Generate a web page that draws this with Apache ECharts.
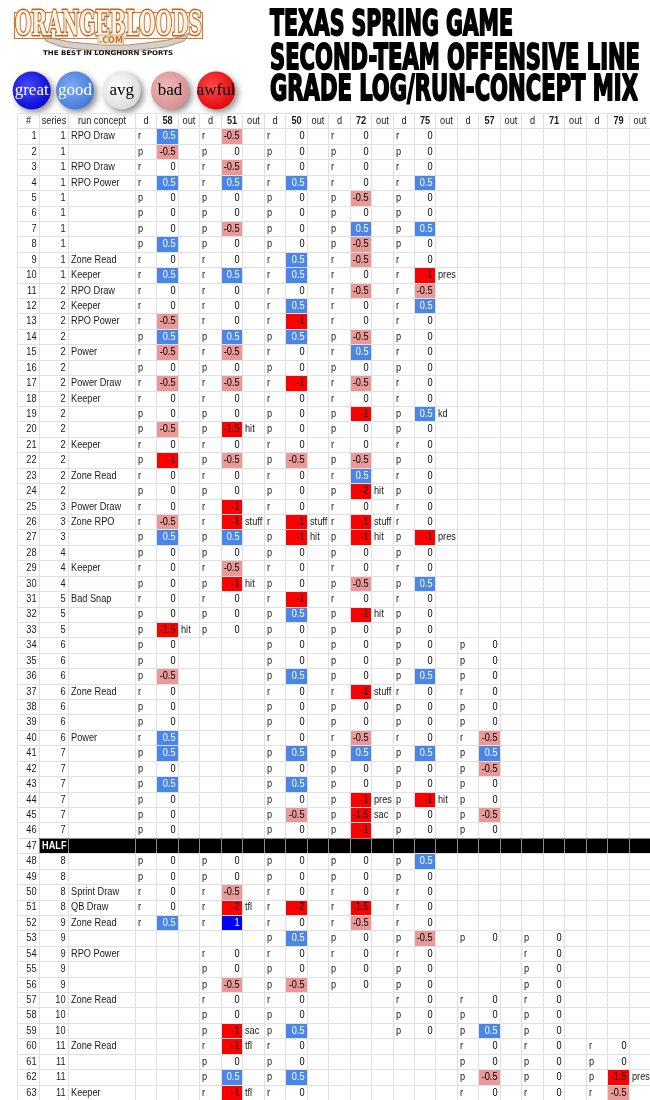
<!DOCTYPE html>
<html><head><meta charset="utf-8">
<script src="https://cdn.jsdelivr.net/npm/echarts@6/dist/echarts.min.js"></script>
<style>html,body{margin:0;padding:0;background:#fff}#c{width:650px;height:1100px}</style>
</head><body><div id="c"></div>
<script>
const _ = null;
const players = ['58','51','50','72','75','57','71','79'];
const headLeft = ['#','series','run concept'];
const subHead = ['d','','out'];
const plays = [1,2,3,4,5,6,7,8,9,10,11,12,13,14,15,16,17,18,19,20,21,22,23,24,25,26,27,28,29,30,31,32,33,34,35,36,37,38,39,40,41,42,43,44,45,46,47,48,49,50,51,52,53,54,55,56,57,58,59,60,61,62,63];
const halfRow = 47;
const halfLabel = 'HALF';
const seriesNo = [1,1,1,1,1,1,1,1,1,1, 2,2,2,2,2,2,2,2,2,2, 2,2,2,2,3,3,3,4,4,4, 5,5,5,6,6,6,6,6,6,6, 7,7,7,7,7,7,_,8,8,8, 8,9,9,9,9,9,10,10,10,11, 11,11,11];
const runConcept = ['RPO Draw','','RPO Draw','RPO Power','','','','','Zone Read','Keeper',
 'RPO Draw','Keeper','RPO Power','','Power','','Power Draw','Keeper','','',
 'Keeper','','Zone Read','','Power Draw','Zone RPO','','','Keeper','',
 'Bad Snap','','','','','','Zone Read','','','Power',
 '','','','','','','','','','Sprint Draw',
 'QB Draw','Zone Read','','RPO Power','','','Zone Read','','','Zone Read',
 '','','Keeper'];
const playType = ['r','p','r','r','p','p','p','p','r','r', 'r','r','r','p','r','p','r','r','p','p',
 'r','p','r','p','r','r','p','p','r','p', 'r','p','p','p','p','p','r','p','p','r',
 'p','p','p','p','p','p','','p','p','r', 'r','r','p','r','p','p','r','p','p','r', 'p','p','r'];

const grade58 = [0.5,-0.5,0,0.5,0,0,0,0.5,0,0.5, 0,0,-0.5,0.5,-0.5,0,-0.5,0,0,-0.5, 0,-1,0,0,0,-0.5,0.5,0,0,0,
 0,0,-1.5,0,0,-0.5,0,0,0,0.5, 0.5,0,0.5,0,0,0,_,0,0,0, 0,0.5,_,_,_,_,_,_,_,_, _,_,_];
const grade51 = [-0.5,0,-0.5,0.5,0,0,-0.5,0,0,0.5, 0,0,0,0.5,-0.5,0,-0.5,0,0,-1.5, 0,-0.5,0,0,-1,-1,0.5,0,-0.5,-1,
 0,0,0,_,_,_,_,_,_,_, _,_,_,_,_,_,_,0,0,-0.5, -2,1,_,0,0,-0.5,0,0,-1,-1, 0,0.5,-1];
const grade50 = [0,0,0,0.5,0,0,0,0,0.5,0.5, 0,0.5,-1,0.5,0,0,-1,0,0,0, 0,-0.5,0,0,0,-1,-1,0,0,0,
 -1,0.5,0,0,0,0.5,0,0,0,0, 0.5,0,0.5,0,-0.5,0,_,0,0,0, -2,0,0.5,0,0,-0.5,0,0,0.5,0, 0,0.5,0];
const grade72 = [0,0,0,0,-0.5,0,0.5,-0.5,-0.5,0, -0.5,0,0,-0.5,0.5,0,-0.5,0,-1,0, 0,-0.5,0.5,-2,0,-1,-1,0,0,-0.5,
 0,-1,0,0,0,0,-1,0,0,-0.5, 0.5,0,0,-1,-1.5,-1,_,0,0,0, -1.5,-0.5,0,0,0,0,_,_,_,_, _,_,_];
const grade75 = [0,0,0,0.5,0,0,0.5,0,0,-1, -0.5,0.5,0,0,0,0,0,0,0.5,0, 0,0,0,0,0,0,-1,0,0,0.5,
 0,0,0,0,0,0.5,0,0,0,0, 0.5,0,0,-1,0,0,_,0.5,0,0, 0,0,-0.5,0,0,0,0,0,0,_, _,_,_];
const grade57 = [_,_,_,_,_,_,_,_,_,_, _,_,_,_,_,_,_,_,_,_, _,_,_,_,_,_,_,_,_,_,
 _,_,_,0,0,0,0,0,0,-0.5, 0.5,-0.5,0,0,-0.5,0,_,_,_,_, _,_,0,_,_,_,0,0,0.5,0, 0,-0.5,0];
const grade71 = [_,_,_,_,_,_,_,_,_,_, _,_,_,_,_,_,_,_,_,_, _,_,_,_,_,_,_,_,_,_,
 _,_,_,_,_,_,_,_,_,_, _,_,_,_,_,_,_,_,_,_, _,_,0,0,0,0,0,0,0,0, 0,0,0];
const grade79 = [_,_,_,_,_,_,_,_,_,_, _,_,_,_,_,_,_,_,_,_, _,_,_,_,_,_,_,_,_,_,
 _,_,_,_,_,_,_,_,_,_, _,_,_,_,_,_,_,_,_,_, _,_,_,_,_,_,_,_,_,0, 0,-1.5,-0.5];

const notes58 = {33:'hit'};
const notes51 = {20:'hit',26:'stuff',30:'hit',51:'tfl',59:'sac',60:'tfl',63:'tfl'};
const notes50 = {26:'stuff',27:'hit'};
const notes72 = {24:'hit',26:'stuff',27:'hit',32:'hit',37:'stuff',44:'pres',45:'sac'};
const notes75 = {10:'pres',19:'kd',27:'pres',44:'hit'};
const notes57 = {};
const notes71 = {};
const notes79 = {62:'pres'};

const legendLabels = ['great','good','avg','bad','awful'];
const legendValues = [1,0.5,0,-0.5,-1];

const titleLines = ['TEXAS SPRING GAME','SECOND-TEAM OFFENSIVE LINE','GRADE LOG/RUN-CONCEPT MIX'];
const logoText = 'ORANGEBLOODS';
const logoSub = '.COM';
const logoTag = 'THE BEST IN LONGHORN SPORTS';

const grades = [grade58,grade51,grade50,grade72,grade75,grade57,grade71,grade79];
const notes = [notes58,notes51,notes50,notes72,notes75,notes57,notes71,notes79];

// ---- layout ----
const GRID = '#e0e0e0';
const FONT = '"Liberation Sans", Arial, sans-serif';
const edges = [17, 38.5, 67.5, 135];
const subW = (650 - 135) / 24;
for (let i = 1; i <= 24; i++) edges.push(135 + subW * i);

function gradeFill(v){
  if (v == null) return null;
  if (v >= 1) return '#0000ff';
  if (v >= 0.5) return '#4a86e8';
  if (v <= -1) return '#ff0000';
  if (v <= -0.5) return '#ea9999';
  return null;
}
function gradeColor(v){ return v >= 0.5 ? '#ffffff' : '#000000'; }

const cells = [];
function add(col,row,text,align,opt){ cells.push(Object.assign({col,row,text:text==null?'':String(text),align},opt||{})); }

headLeft.forEach((t,i)=>add(i,0,t,'center'));
players.forEach((p,k)=>{
  add(3+3*k,0,subHead[0],'center');
  add(4+3*k,0,p,'center',{bold:true});
  add(5+3*k,0,subHead[2],'center');
});
for (let r = 1; r <= plays.length; r++){
  add(0,r,plays[r-1],'right');
  if (plays[r-1] === halfRow){
    for (let c = 1; c < edges.length-1; c++){
      add(c,r,c===1?halfLabel:'','left',{fill:'#000000',stroke:'#8c8c8c',color:'#ffffff',bold:true});
    }
    continue;
  }
  add(1,r,seriesNo[r-1],'right');
  add(2,r,runConcept[r-1],'left');
  players.forEach((p,k)=>{
    const g = grades[k][r-1];
    add(3+3*k,r,g==null?'':playType[r-1],'left');
    add(4+3*k,r,g==null?'':g,'right',{fill:gradeFill(g),color:g==null?null:gradeColor(g)});
    add(5+3*k,r,notes[k][r] || '','left');
  });
}

const rowCats = ['head'].concat(plays.map(String));

function renderCell(params, api){
  const c = cells[api.value(3)];
  const a = api.coord([api.value(0), api.value(2)]);
  const b = api.coord([api.value(1), api.value(2)]);
  const h = api.size([0,1])[1];
  const x0 = Math.round(a[0]), x1 = Math.round(b[0]);
  const y0 = Math.round(a[1]-h/2), y1 = Math.round(a[1]+h/2);
  const yc = a[1];
  const ch = [];
  if (c.fill) ch.push({type:'rect',shape:{x:x0,y:y0,width:x1-x0,height:y1-y0},style:{fill:c.fill}});
  ch.push({type:'rect',shape:{x:x0+0.5,y:y0+0.5,width:x1-x0,height:y1-y0},style:{fill:'none',stroke:c.stroke||GRID,lineWidth:1}});
  if (c.text !== ''){
    let tx;
    if (c.align==='left') tx = x0+3; else if (c.align==='right') tx = x1-2.5; else tx = (x0+x1)/2+0.5;
    ch.push({type:'text',x:tx,y:yc+0.5,scaleX:0.92,style:{text:c.text,x:0,y:0,align:c.align,verticalAlign:'middle',
      fill:c.color||'#1a1a1a',font:(c.bold?'bold ':'')+'10px '+FONT}});
  }
  return {type:'group',children:ch};
}

// ---- header graphics ----
const mctx = document.createElement('canvas').getContext('2d');
function fitText(text, font, x0, x1){
  mctx.font = font;
  const w = mctx.measureText(text).width;
  return (x1-x0)/w;
}
const graphics = [];
graphics.push({type:'polygon',shape:{points:[[40,31],[52,38],[70,42],[92,44],[108,45],[128,45],[146,43],[168,40],[186,35],[192,30],[184,41],[165,47],[140,50],[112,51],[86,50],[62,47],[46,41]]},
  style:{fill:'#d8d0c5',stroke:'#9c9186',lineWidth:1},z:1});
graphics.push({type:'rect',shape:{x:14.5,y:12.5,width:188,height:26},style:{fill:'none',stroke:'#cf7a2c',lineWidth:1.2},z:2});
const logoFont = 'bold 34px "DejaVu Serif", serif';
graphics.push({type:'text',x:15,y:26,scaleX:fitText(logoText,logoFont,15,202),scaleY:0.98,
  style:{text:logoText,x:0,y:0,align:'left',verticalAlign:'middle',font:logoFont,fill:'#fbf1e4',stroke:'#c2661c',lineWidth:3},z:3});
graphics.push({type:'rect',shape:{x:98,y:35,width:26,height:10,r:2},style:{fill:'#efe6d6',stroke:'#b8a990',lineWidth:0.8},z:4});
graphics.push({type:'text',x:111,y:40.5,style:{text:logoSub,align:'center',verticalAlign:'middle',font:'bold 8px "DejaVu Sans", sans-serif',fill:'#d0701e'},z:5});
const tagFont = 'bold 6.5px "DejaVu Sans", sans-serif';
graphics.push({type:'text',x:43,y:53.5,scaleX:fitText(logoTag,tagFont,43,173),
  style:{text:logoTag,x:0,y:0,align:'left',verticalAlign:'middle',font:tagFont,fill:'#111'},z:5});

const legendX = [31.7, 75, 121.7, 170, 216];
const legendGrad = {
  '1':['#4a4aff','#0000cc'], '0.5':['#7eaaf2','#3d74d6'], '0':['#ffffff','#d6d6d6'],
  '-0.5':['#f0baba','#d68a8a'], '-1':['#ff4a4a','#dd0000']
};
legendLabels.forEach((lab,i)=>{
  const v = legendValues[i];
  const gc = legendGrad[String(v)];
  graphics.push({type:'circle',shape:{cx:legendX[i],cy:90.5,r:19},
    style:{fill:{type:'radial',x:0.4,y:0.4,r:0.7,colorStops:[{offset:0,color:gc[0]},{offset:1,color:gc[1]}]},
      shadowBlur:6,shadowOffsetX:3,shadowOffsetY:3,shadowColor:'rgba(0,0,0,0.45)'},z:1});
  graphics.push({type:'text',x:legendX[i],y:91,style:{text:lab,align:'center',verticalAlign:'middle',
    font:'17px "Liberation Serif", "DejaVu Serif", serif',fill:v>=0.5?'#ffffff':'#000000'},z:2});
});

const titleFont = 'bold 35px "DejaVu Sans Condensed", "DejaVu Sans", sans-serif';
const titleY = [25.8, 59.6, 90.6];
const titleR = [513, 640, 638];
titleLines.forEach((t,i)=>{
  graphics.push({type:'text',x:270,y:titleY[i],scaleX:fitText(t,titleFont,270,titleR[i]),
    style:{text:t,x:0,y:0,align:'left',verticalAlign:'middle',font:titleFont,fill:'#000',stroke:'#000',lineWidth:1.8,
      shadowColor:'rgba(0,0,0,0.5)',shadowBlur:4,shadowOffsetX:3,shadowOffsetY:4},z:3});
});

const chart = echarts.init(document.getElementById('c'), null, {renderer:'canvas'});
chart.setOption({
  animation:false,
  backgroundColor:'#ffffff',
  grid:{left:0,right:0,top:113,height:64*15.47},
  xAxis:{type:'value',min:0,max:650,show:false},
  yAxis:{type:'category',data:rowCats,inverse:true,show:false},
  graphic:{elements:graphics},
  series:[{
    type:'custom',
    renderItem:renderCell,
    clip:false,
    encode:{x:[0,1],y:2},
    data:cells.map((c,i)=>[edges[c.col],edges[c.col+1],c.row,i])
  }]
});
</script>
</body></html>
